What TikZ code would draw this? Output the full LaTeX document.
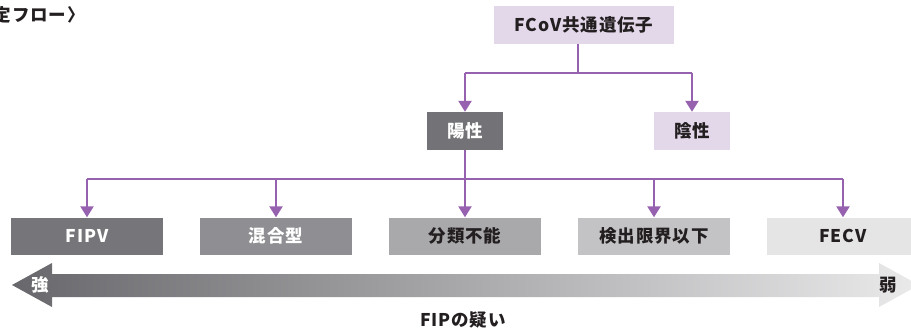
\documentclass[tikz,border=0pt]{standalone}
\usepackage{fontspec}
\setmainfont{Noto Sans CJK JP}[LetterSpace=5]
\usetikzlibrary{arrows.meta}
\definecolor{lnpurple}{RGB}{150,98,176}
\definecolor{lav}{RGB}{227,215,234}
\definecolor{yofill}{RGB}{115,115,119}
\definecolor{txtdark}{RGB}{35,31,32}
\definecolor{gA}{RGB}{118,118,122}
\definecolor{gB}{RGB}{143,143,147}
\definecolor{gC}{RGB}{169,169,172}
\definecolor{gD}{RGB}{195,195,197}
\definecolor{gE}{RGB}{229,229,230}
\definecolor{arrL}{RGB}{104,104,108}
\definecolor{arrR}{RGB}{234,234,235}
\begin{document}
\begin{tikzpicture}[x=1pt,y=1pt,
  lbl/.style={inner sep=0pt, font=\fontsize{17.5}{20}\selectfont\bfseries, text=txtdark},
  box/.style={lbl, rectangle},
  topbox/.style={box, minimum height=38pt},
  botbox/.style={box, minimum width=152pt, minimum height=37pt},
  conn/.style={draw=lnpurple, line width=2.4pt},
  arr/.style={conn, -{Triangle[width=13pt,length=11pt]}}]
\useasboundingbox (0,0) rectangle (911,-329);

% title (cut at the left edge)
\node[lbl, anchor=east] (title) at (85,-15) {定フロー〉};

% top boxes
\node[topbox, fill=lav, minimum width=180pt] (fcov) at (584,-25) {FCoV共通遺伝子};
\node[topbox, fill=yofill, text=white, minimum width=76pt] (pos) at (465,-131) {陽性};
\node[topbox, fill=lav, minimum width=76pt] (neg) at (692,-131) {陰性};

% bottom boxes
\node[botbox, fill=gA, text=white] (b1) at (87,-236) {FIPV};
\node[botbox, fill=gB, text=white] (b2) at (276,-236) {混合型};
\node[botbox, fill=gC] (b3) at (465,-236) {分類不能};
\node[botbox, fill=gD] (b4) at (654,-236) {検出限界以下};
\node[botbox, fill=gE] (b5) at (843,-236) {FECV};

% connectors
\coordinate (j1) at (578,-73);
\coordinate (j2) at (465,-179);
\draw[conn] (fcov.south -| j1) -- (j1);
\draw[conn] (j1) -| (pos.north |- j1);
\draw[conn] (j1) -| (neg.north |- j1);
\draw[arr] (pos.north |- j1) -- (pos.north);
\draw[arr] (neg.north |- j1) -- (neg.north);
\draw[conn] (pos.south) -- (j2);
\draw[conn] (b1.north |- j2) -- (b5.north |- j2);
\draw[arr] (b1.north |- j2) -- (b1.north);
\draw[arr] (b2.north |- j2) -- (b2.north);
\draw[arr] (j2) -- (b3.north);
\draw[arr] (b4.north |- j2) -- (b4.north);
\draw[arr] (b5.north |- j2) -- (b5.north);

% gradient double arrow
\shade[left color=arrL, right color=arrR]
  (12,-285) -- (52,-263) -- (52,-274) -- (879,-274) -- (879,-263) -- (919,-285)
  -- (879,-307) -- (879,-297) -- (52,-297) -- (52,-307) -- cycle;
\node[lbl, text=white] (strong) at (40,-285) {強};
\node[lbl] (weak) at (888,-285) {弱};
\node[lbl] (doubt) at (463,-320) {FIPの疑い};
\end{tikzpicture}
\end{document}
